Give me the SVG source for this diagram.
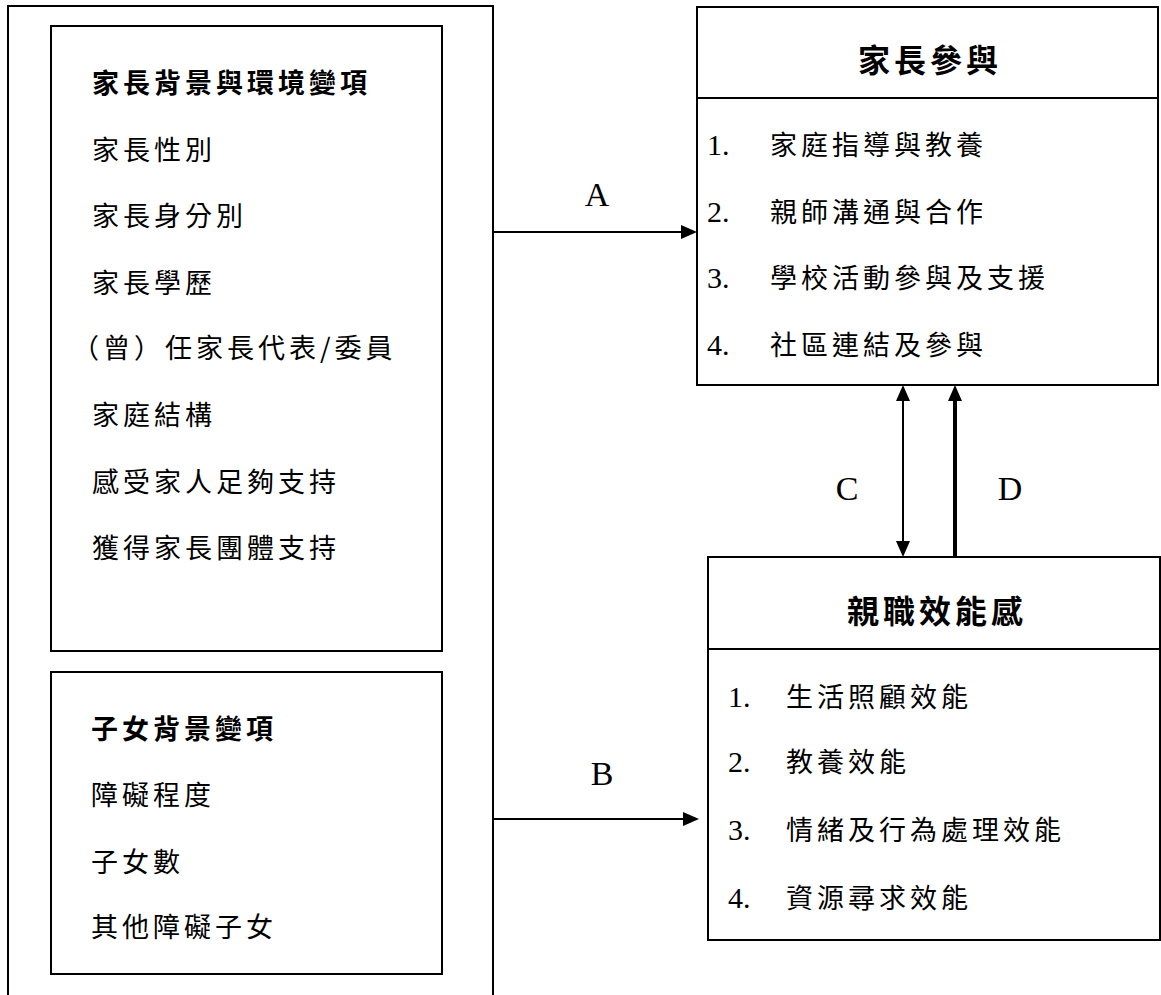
<svg xmlns="http://www.w3.org/2000/svg" width="1161" height="995" viewBox="0 0 1161 995">
<defs>
<style>
.box{fill:#fff;stroke:#000;stroke-width:2}
.ln{fill:none;stroke:#000;stroke-width:2}
.t{font-family:"Noto Sans CJK TC","Noto Sans CJK SC",sans-serif;font-size:27px;letter-spacing:4px;fill:#000}
.h{font-family:"Noto Sans CJK TC","Noto Sans CJK SC",sans-serif;font-size:27px;font-weight:bold;letter-spacing:4px;fill:#000}
.h2{font-family:"Noto Sans CJK TC","Noto Sans CJK SC",sans-serif;font-size:32px;font-weight:bold;letter-spacing:4px;fill:#000;text-anchor:middle}
.n{font-family:"Liberation Serif",serif;font-size:30px;letter-spacing:0}
.lab{font-family:"Liberation Serif",serif;font-size:34px;fill:#000;text-anchor:middle}
.con{fill:none;stroke:#000;stroke-width:2}
</style>
<marker id="ah" markerWidth="16" markerHeight="14" refX="0" refY="7" orient="auto-start-reverse" markerUnits="userSpaceOnUse">
<path d="M0,0 L16,7 L0,14 z" fill="#000"/>
</marker>
</defs>
<rect width="1161" height="995" fill="#fff"/>

<g id="outer">
<path class="ln" d="M8,995 V6 H493 V995"/>
</g>

<g id="parent-background">
<rect class="box" x="51" y="26" width="391" height="625"/>
<text class="h" x="92" y="93">家長背景與環境變項</text>
<text class="t" x="92" y="160">家長性別</text>
<text class="t" x="92" y="226">家長身分別</text>
<text class="t" x="92" y="293">家長學歷</text>
<text class="t" x="72" y="358">（曾）任家長代表/委員</text>
<text class="t" x="92" y="425">家庭結構</text>
<text class="t" x="92" y="492">感受家人足夠支持</text>
<text class="t" x="92" y="558">獲得家長團體支持</text>
</g>

<g id="child-background">
<rect class="box" x="51" y="672" width="391" height="302"/>
<text class="h" x="91" y="739">子女背景變項</text>
<text class="t" x="91" y="805">障礙程度</text>
<text class="t" x="91" y="872">子女數</text>
<text class="t" x="91" y="937">其他障礙子女</text>
</g>

<g id="parent-involvement">
<rect class="box" x="697" y="7" width="461" height="378"/>
<line class="ln" x1="697" y1="98" x2="1158" y2="98"/>
<text class="h2" x="930" y="72">家長參與</text>
<text class="t"><tspan class="n" x="707" y="155">1.</tspan><tspan x="770" y="155">家庭指導與教養</tspan></text>
<text class="t"><tspan class="n" x="707" y="222">2.</tspan><tspan x="770" y="222">親師溝通與合作</tspan></text>
<text class="t"><tspan class="n" x="707" y="288">3.</tspan><tspan x="770" y="288">學校活動參與及支援</tspan></text>
<text class="t"><tspan class="n" x="707" y="355">4.</tspan><tspan x="770" y="355">社區連結及參與</tspan></text>
</g>

<g id="parenting-efficacy">
<rect class="box" x="708" y="557" width="452" height="383"/>
<line class="ln" x1="708" y1="649" x2="1160" y2="649"/>
<text class="h2" x="937" y="623">親職效能感</text>
<text class="t"><tspan class="n" x="728" y="707">1.</tspan><tspan x="786" y="707">生活照顧效能</tspan></text>
<text class="t"><tspan class="n" x="728" y="772">2.</tspan><tspan x="786" y="772">教養效能</tspan></text>
<text class="t"><tspan class="n" x="728" y="840">3.</tspan><tspan x="786" y="840">情緒及行為處理效能</tspan></text>
<text class="t"><tspan class="n" x="728" y="908">4.</tspan><tspan x="786" y="908">資源尋求效能</tspan></text>
</g>

<g id="connectors">
<line class="con" x1="494" y1="232" x2="681" y2="232" marker-end="url(#ah)"/>
<line class="con" x1="494" y1="819" x2="683" y2="819" marker-end="url(#ah)"/>
<line class="con" x1="903" y1="401" x2="903" y2="541" marker-start="url(#ah)" marker-end="url(#ah)"/>
<line class="con" style="stroke-width:4" x1="955" y1="556" x2="955" y2="401" marker-end="url(#ah)"/>
<text class="lab" x="597" y="206">A</text>
<text class="lab" x="602" y="785">B</text>
<text class="lab" x="847" y="500">C</text>
<text class="lab" x="1010" y="500">D</text>
</g>
</svg>
